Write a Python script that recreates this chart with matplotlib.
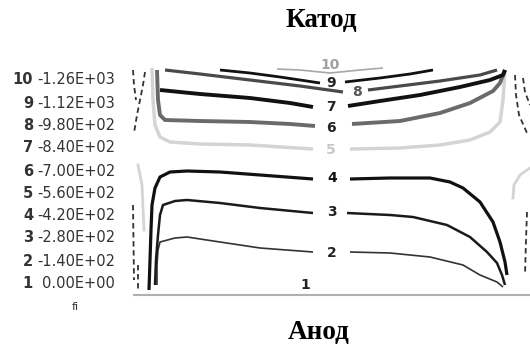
import numpy as np
import matplotlib
matplotlib.use('Agg')
import matplotlib.pyplot as plt

# isoline levels of the potential fi
levels = [0.0, -140.0, -280.0, -420.0, -560.0, -700.0, -840.0, -980.0, -1120.0, -1260.0]

# isolines in cell coordinates (x across the gap, y from anode up to cathode)
# each isoline is split into a left and a right branch around its label
line1 = [([-24, 373], [0, 0])]
line2 = [([0, 0, 1, 3, 18, 30, 63, 103, 156], [10, 30, 45, 53, 57, 58, 53, 47, 43]),
         ([193, 233, 273, 306, 323, 340, 346], [43, 42, 38, 30, 20, 13, 8])]
line3 = [([-2, -1, 1, 3, 6, 18, 30, 63, 103, 156], [10, 35, 60, 80, 90, 94, 95, 92, 87, 82]),
         ([190, 233, 256, 290, 313, 330, 340, 345, 348], [82, 80, 78, 70, 58, 43, 32, 20, 10])]
line4 = [([-8, -7, -6, -5, -2, 3, 13, 30, 63, 103, 156], [5, 35, 65, 90, 107, 118, 123, 124, 123, 120, 116]),
         ([193, 233, 273, 293, 306, 323, 336, 343, 348, 350], [116, 117, 117, 113, 107, 93, 73, 53, 33, 20])]
line5 = [([-5, -4, -2, 3, 13, 43, 93, 156], [227, 195, 170, 158, 153, 151, 150, 146]),
         ([193, 243, 283, 313, 333, 343, 346, 348], [146, 147, 150, 155, 163, 173, 195, 225])]
line6 = [([0, 1, 3, 8, 43, 93, 133, 158], [225, 195, 180, 175, 174, 173, 171, 169]),
         ([195, 243, 283, 313, 336, 343, 348], [171, 174, 182, 192, 204, 212, 225])]
line7 = [([3, 43, 93, 133, 156], [205, 201, 197, 192, 188]),
         ([191, 223, 263, 303, 333, 346, 348], [189, 194, 200, 208, 215, 220, 225])]
line8 = [([8, 43, 93, 143, 186], [225, 221, 215, 209, 203]),
         ([211, 243, 283, 323, 340], [205, 209, 214, 220, 225])]
line9 = [([63, 93, 123, 163], [225, 222, 218, 212]),
         ([188, 223, 253, 276], [213, 217, 221, 225])]
line10 = [([120, 143, 173, 203, 226], [226, 225, 222, 225, 227])]

isolines = [line1, line2, line3, line4, line5, line6, line7, line8, line9, line10]
label_x = [148, 175, 175, 175, 174, 174, 174, 200, 174, 173]
label_y = [10, 42, 83, 117, 145, 167, 188, 203, 212, 230]

# fragments of the neighbouring cells
neighbours = [([-12, -14, -17, -20, -23], [223, 210, 195, 180, 162]),
              ([-24, -23, -21], [225, 210, 195]),
              ([358, 359, 362, 370], [220, 200, 180, 162]),
              ([366, 368, 373], [217, 203, 190]),
              ([370, 369, 368], [83, 55, 20]),
              ([-24, -23], [90, 15]),
              ([-19, -19], [30, 5])]
neighbour_gray = [([356, 357, 363, 373], [97, 110, 120, 127]),
                  ([-19, -15, -13], [130, 110, 65])]

line_colors = ['#b0b0b0', '#333333', '#1a1a1a', '#111111', '#d4d4d4',
               '#6a6a6a', '#111111', '#4a4a4a', '#111111', '#a8a8a8']
line_widths = [1.5, 1.2, 1.8, 2.3, 2.5, 2.8, 2.8, 2.3, 2.0, 1.2]
label_colors = ['#222222', '#222222', '#222222', '#111111', '#c8c8c8',
                '#222222', '#222222', '#555555', '#222222', '#a0a0a0']

fig = plt.figure(figsize=(5.3, 3.49), dpi=100)
ax = fig.add_axes([0, 0, 1, 1])
ax.set_xlim(-157, 373)
ax.set_ylim(-54, 295)
ax.axis('off')

for i in range(len(isolines)):
    for xs, ys in isolines[i]:
        ax.plot(xs, ys, color=line_colors[i], lw=line_widths[i],
                solid_capstyle='butt', solid_joinstyle='round')
    ax.text(label_x[i], label_y[i], str(i + 1), color=label_colors[i],
            fontsize=10, fontweight='bold', ha='center', va='center')

for xs, ys in neighbours:
    ax.plot(xs, ys, color='#333333', lw=1.3, ls=(0, (3, 2)))
for xs, ys in neighbour_gray:
    ax.plot(xs, ys, color='#d4d4d4', lw=2.0)

# legend: isoline number and value
row_y = [12, 34, 57, 80, 102, 124, 147, 169, 192, 215]
for i in range(len(levels)):
    ax.text(-124, row_y[i], str(i + 1), fontsize=10.5, fontweight='bold',
            color='#333333', ha='right', va='center')
    ax.text(-42, row_y[i], '{:.2E}'.format(levels[i]), fontsize=10.5,
            color='#333333', ha='right', va='center')
ax.text(-82, -12, 'fi', fontsize=8, color='#333333', ha='center', va='center')

ax.text(164, 274, 'Катод', family='Liberation Serif', fontweight='bold',
        fontsize=19.5, ha='center', va='center')
ax.text(162, -37, 'Анод', family='Liberation Serif', fontweight='bold',
        fontsize=19.5, ha='center', va='center')

fig.savefig('out.png', dpi=100)
